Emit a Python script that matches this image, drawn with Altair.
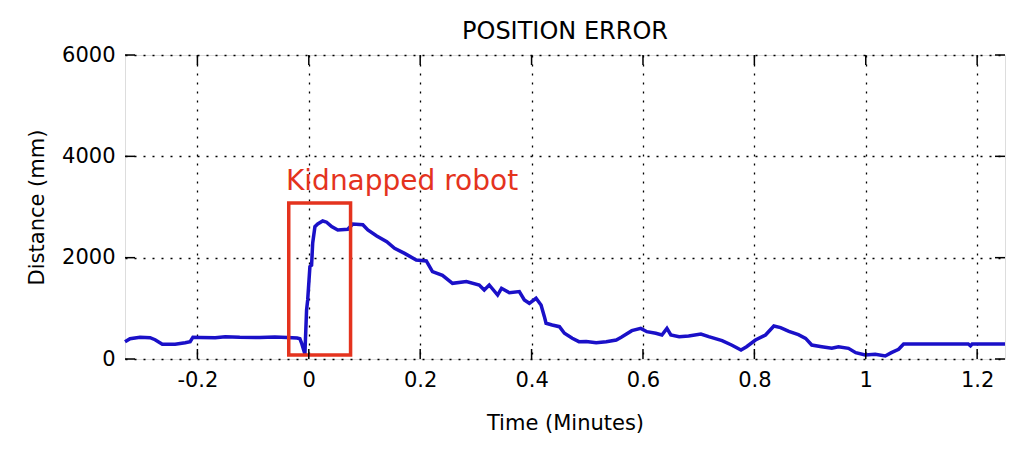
import altair as alt
import pandas as pd

# ---- data ----
time_min = [-0.330, -0.321, -0.303, -0.285, -0.276, -0.263, -0.240, -0.222, -0.213, -0.208,
            -0.195, -0.168, -0.150, -0.124, -0.088, -0.061, -0.039, -0.021, -0.016, -0.013,
            -0.007, -0.004, -0.002, 0.002, 0.005, 0.007, 0.011, 0.016, 0.025, 0.032,
            0.041, 0.052, 0.070, 0.079, 0.097, 0.106, 0.122, 0.140, 0.154, 0.172,
            0.193, 0.211, 0.222, 0.240, 0.258, 0.283, 0.306, 0.315, 0.324, 0.339,
            0.346, 0.360, 0.378, 0.387, 0.396, 0.408, 0.417, 0.423, 0.426, 0.437,
            0.450, 0.459, 0.473, 0.485, 0.498, 0.516, 0.534, 0.552, 0.561, 0.580,
            0.596, 0.607, 0.623, 0.634, 0.643, 0.650, 0.665, 0.682, 0.704, 0.718,
            0.742, 0.759, 0.776, 0.786, 0.802, 0.820, 0.835, 0.847, 0.862, 0.879,
            0.892, 0.903, 0.921, 0.939, 0.951, 0.969, 0.982, 0.999, 1.017, 1.035,
            1.046, 1.059, 1.068, 1.184, 1.188, 1.191, 1.250]
distance_mm = [340, 400, 430, 420, 380, 290, 290, 320, 340, 430,
               425, 420, 440, 430, 425, 435, 425, 415, 400, 316,
               100, 967, 1165, 1822, 1850, 2290, 2612, 2665, 2724, 2700,
               2612, 2546, 2560, 2665, 2650, 2546, 2428, 2316, 2185, 2085,
               1954, 1935, 1723, 1650, 1494, 1527, 1461, 1362, 1461, 1263,
               1395, 1309, 1330, 1165, 1099, 1198, 1066, 835, 705, 671,
               638, 507, 408, 342, 346, 322, 342, 375, 428, 559,
               605, 539, 507, 474, 605, 474, 441, 454, 494, 441,
               362, 276, 178, 243, 375, 474, 651, 620, 545, 480,
               408, 276, 243, 211, 243, 211, 125, 79, 92, 59,
               125, 191, 296, 296, 260, 296, 296]

x_ticks = [-0.2, 0, 0.2, 0.4, 0.6, 0.8, 1.0, 1.2]
y_ticks = [0, 2000, 4000, 6000]
x_domain = [-0.33, 1.25]
y_domain = [0, 6000]

box_x = [-0.036]
box_x2 = [0.075]
box_y = [80]
box_y2 = [3080]
label_x = [-0.041]
label_y = [3340]
label_text = ["Kidnapped robot"]

W, H = 880, 304
FONT = "DejaVu Sans"
BLUE = "#1a10c8"
RED = "#e4331e"

df = pd.DataFrame({"t": time_min, "d": distance_mm})
xt = pd.DataFrame({"v": x_ticks})
yt = pd.DataFrame({"v": y_ticks})
box = pd.DataFrame({"x": box_x, "x2": box_x2, "y": box_y, "y2": box_y2})
lab = pd.DataFrame({"x": label_x, "y": label_y, "text": label_text})

xscale = alt.Scale(domain=x_domain, nice=False, zero=False)
yscale = alt.Scale(domain=y_domain, nice=False)

xaxis = alt.Axis(values=x_ticks, title="Time (Minutes)", grid=True, gridDash=[2, 7],
                 gridColor="black", gridOpacity=1, gridWidth=1.3, ticks=False, domain=False,
                 labelFont=FONT, labelFontSize=21, labelColor="black", labelPadding=10,
                 titleFont=FONT, titleFontSize=21, titleFontWeight="normal",
                 titleColor="black", titlePadding=22, labelFlush=False,
                 labelExpr="datum.value < 0 ? '-' + format(-datum.value, '~g') : format(datum.value, '~g')")
yaxis = alt.Axis(values=y_ticks, title="Distance (mm)", grid=True, gridDash=[2, 7],
                 gridColor="black", gridOpacity=1, gridWidth=1.3, ticks=False, domain=False,
                 labelFont=FONT, labelFontSize=21, labelColor="black", labelPadding=10,
                 titleFont=FONT, titleFontSize=21, titleFontWeight="normal",
                 titleColor="black", titlePadding=14, labelFlush=False, format="d")

line = alt.Chart(df).mark_line(color=BLUE, strokeWidth=3.5, strokeJoin="miter").encode(
    x=alt.X("t:Q", scale=xscale, axis=xaxis),
    y=alt.Y("d:Q", scale=yscale, axis=yaxis),
)

rect = alt.Chart(box).mark_rect(fill=None, fillOpacity=0, stroke=RED, strokeWidth=3.5).encode(
    x=alt.X("x:Q", scale=xscale), x2="x2:Q",
    y=alt.Y("y:Q", scale=yscale), y2="y2:Q",
)

text = alt.Chart(lab).mark_text(color=RED, font=FONT, fontSize=28, align="left",
                                baseline="alphabetic").encode(
    x=alt.X("x:Q", scale=xscale), y=alt.Y("y:Q", scale=yscale), text="text:N"
)

tick_style = dict(color="black", strokeWidth=1.5)
xb = alt.Chart(xt).mark_rule(**tick_style).encode(
    x=alt.X("v:Q", scale=xscale), y=alt.value(H), y2=alt.value(H - 10))
xtop = alt.Chart(xt).mark_rule(**tick_style).encode(
    x=alt.X("v:Q", scale=xscale), y=alt.value(0), y2=alt.value(10))
yl = alt.Chart(yt).mark_rule(**tick_style).encode(
    y=alt.Y("v:Q", scale=yscale), x=alt.value(0), x2=alt.value(10))
yr = alt.Chart(yt).mark_rule(**tick_style).encode(
    y=alt.Y("v:Q", scale=yscale), x=alt.value(W - 10), x2=alt.value(W))

chart = alt.layer(line, rect, text, xb, xtop, yl, yr).properties(
    width=W, height=H,
    title=alt.TitleParams("POSITION ERROR", font=FONT, fontSize=24, fontWeight="normal",
                          color="black", anchor="middle", offset=0),
    autosize=alt.AutoSizeParams(type="none"),
    padding={"left": 117, "top": 47, "right": 11, "bottom": 80},
).configure_view(stroke="black", strokeWidth=1.5).configure(background="white")

chart.save("out.html", embed_options={"renderer": "svg", "actions": False})
